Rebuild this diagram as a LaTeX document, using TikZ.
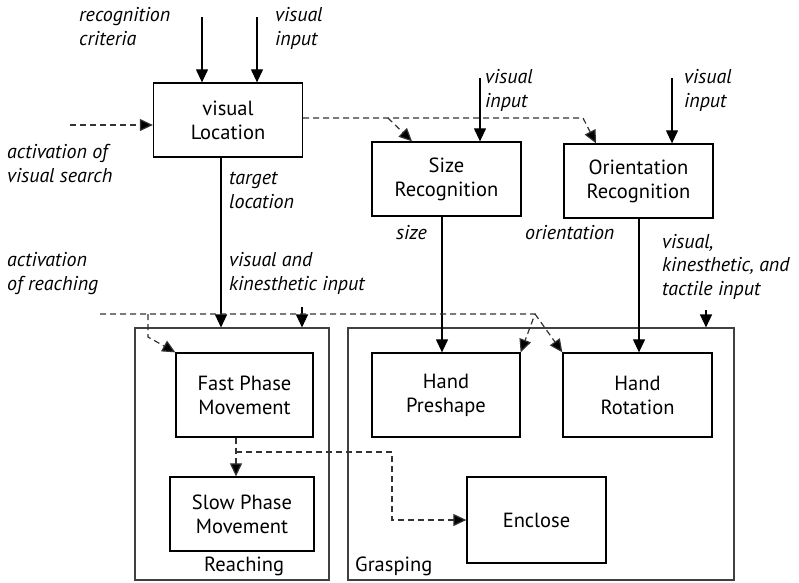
\documentclass[tikz,border=0pt]{standalone}
\usepackage{fontspec}
\setmainfont{PT Sans}
\usetikzlibrary{arrows.meta}

\tikzset{
  unit/.style={draw, line width=1.3pt, align=center, inner sep=0pt,
    font=\fontsize{20.5}{24}\selectfont},
  group/.style={draw=black!75, line width=1.1pt, inner sep=0pt},
  lbl/.style={anchor=base west, align=left, inner sep=0pt,
    font=\fontsize{20}{23.5}\selectfont\itshape},
  tag/.style={anchor=base west, inner sep=0pt, font=\fontsize{20.5}{24}\selectfont},
  flow/.style={-{Triangle[length=13pt,width=12pt]}, line width=1.2pt},
  ctrl/.style={-{Triangle[length=13pt,width=12pt,fill=black]}, line width=1.2pt,
    draw=black!80, dash pattern=on 6pt off 4pt},
}

\begin{document}
\begin{tikzpicture}[x=1pt,y=-1pt]
  \useasboundingbox (0,0) rectangle (799,582);

  % outer groups
  \node[group, minimum width=194pt, minimum height=252pt] (reach) at (232,454) {};
  \node[group, minimum width=386pt, minimum height=252pt] (grasp) at (541,454) {};
  \node[tag] (reachtag) at (204,571) {Reaching};
  \node[tag] (grasptag) at (355,571) {Grasping};

  % schemas
  \node[unit, minimum width=149pt, minimum height=74pt] (loc) at (228,120) {visual\\Location};
  \node[unit, minimum width=149pt, minimum height=74pt] (size) at (446.5,179) {Size\\Recognition};
  \node[unit, minimum width=149pt, minimum height=74pt] (orient) at (638.5,181) {Orientation\\Recognition};
  \node[unit, minimum width=137pt, minimum height=84pt] (fast) at (244.5,395) {Fast Phase\\Movement};
  \node[unit, minimum width=144pt, minimum height=74pt] (slow) at (242,514) {Slow Phase\\Movement};
  \node[unit, minimum width=148pt, minimum height=84pt] (preshape) at (446,395) {Hand\\Preshape};
  \node[unit, minimum width=149pt, minimum height=84pt] (rotation) at (637.5,395) {Hand\\Rotation};
  \node[unit, minimum width=139pt, minimum height=86pt] (enclose) at (536.5,520) {Enclose};

  % labels (placed by the baseline of their last line)
  \node[lbl] (critlbl) at (79,45) {recognition\\criteria};
  \node[lbl] (vislbl) at (275,45) {visual\\input};
  \node[lbl] (searchlbl) at (7,182) {activation of\\visual search};
  \node[lbl] (targetlbl) at (229,208) {target\\location};
  \node[lbl] (sizevislbl) at (485,107) {visual\\input};
  \node[lbl] (orientvislbl) at (684,107) {visual\\input};
  \node[lbl] (sizelbl) at (396,239) {size};
  \node[lbl] (orientlbl) at (525,239) {orientation};
  \node[lbl] (reachinglbl) at (7,290) {activation\\of reaching};
  \node[lbl] (kinlbl) at (229,290) {visual and\\kinesthetic input};
  \node[lbl] (tactlbl) at (662,295) {visual,\\kinesthetic, and\\tactile input};

  % free ends
  \coordinate (crit) at (202,17);
  \coordinate (vis) at (257,17);
  \coordinate (sizevis) at (480,78);
  \coordinate (orientvis) at (672,78);
  \coordinate (search) at (70,125);
  \coordinate (kin) at (302,307);
  \coordinate (tact) at (706,310);
  \coordinate (actreach) at (100,314);

  % data paths
  \draw[flow] (crit) -- (crit |- loc.north);
  \draw[flow] (vis) -- (vis |- loc.north);
  \draw[flow] (sizevis) -- (sizevis |- size.north);
  \draw[flow] (orientvis) -- (orientvis |- orient.north);
  \draw[flow] (221,0 |- loc.south) -- (221,0 |- reach.north);
  \draw[flow] (442,0 |- size.south) -- (442,0 |- preshape.north);
  \draw[flow] (639,0 |- orient.south) -- (639,0 |- rotation.north);
  \draw[flow] (kin) -- (kin |- reach.north);
  \draw[flow] (tact) -- (tact |- grasp.north);

  % activation paths
  \draw[ctrl] (search) -- (search -| loc.west);
  \draw[ctrl] (loc.east |- 0,118) -- (583,118) -- (596,0 |- orient.north);
  \draw[ctrl] (388,118) -- (412,0 |- size.north);
  \draw[ctrl] (actreach) -- (535,314) -- (preshape.north east);
  \draw[ctrl] (535,314) -- (rotation.north west);
  \draw[ctrl] (148,314) -- (148,337) -- (fast.north west);
  \draw[ctrl] (236,0 |- fast.south) -- (236,0 |- slow.north);
  \draw[ctrl] (236,452) -- (392,452) -- (392,520) -- (enclose.west);
\end{tikzpicture}
\end{document}
